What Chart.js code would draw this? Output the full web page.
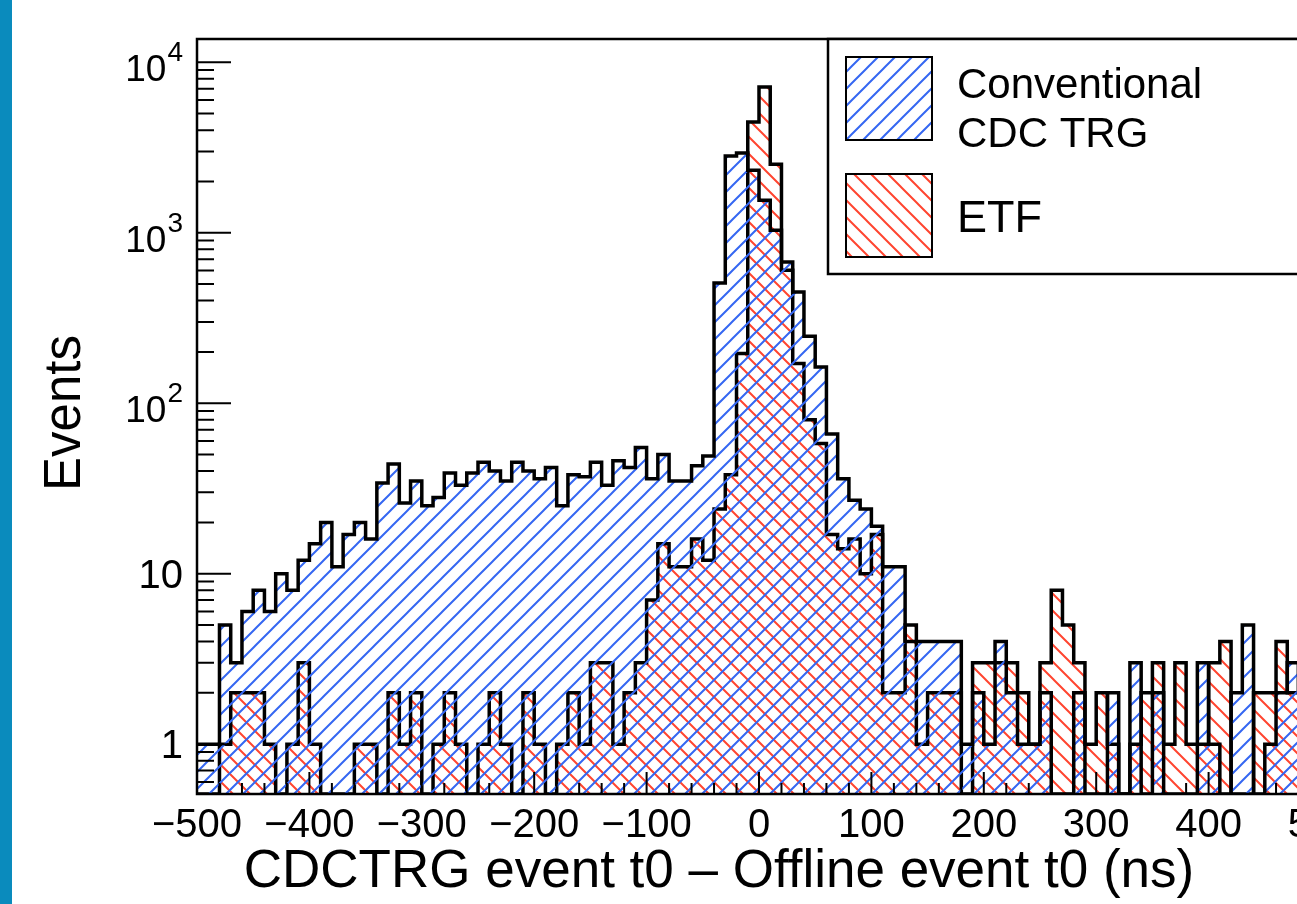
<!DOCTYPE html>
<html>
<head>
<meta charset="utf-8">
<script src="https://cdn.jsdelivr.net/npm/chart.js@4.4.0/dist/chart.umd.min.js"></script>
<style>
html, body { margin: 0; padding: 0; overflow: hidden; background: #fff; }
#wrap { position: relative; width: 1297px; height: 904px; overflow: hidden; }
#myChart { position: absolute; left: 0; top: 0; width: 1400px; height: 904px; }
#stripe { position: absolute; left: 0; top: 0; width: 12px; height: 904px; background: #0a8bbd; }
</style>
</head>
<body>
<div id="wrap">
  <canvas id="myChart" width="1400" height="904"></canvas>
  <div id="stripe"></div>
</div>
<script>
// binning of the histograms (ns)
const binLow = -500;
const binWidth = 10;

// entries per 10 ns bin
const conventional = [
  1, 1, 5, 3, 6, 8, 6, 10, 8, 12,
  15, 20, 11, 17, 20, 16, 34, 44, 26, 35,
  25, 28, 39, 33, 39, 45, 40, 35, 45, 40,
  36, 42, 25, 38, 37, 45, 33, 46, 42, 55,
  36, 50, 35, 35, 43, 49, 508, 2823, 2940, 2326,
  1552, 1035, 674, 450, 247, 163, 66, 36, 27, 24,
  19, 11, 11, 4, 4, 4, 4, 4, 1, 2,
  1, 4, 2, 1, 1, 2, 0, 0, 2, 0,
  0, 2, 0, 3, 0, 2, 0, 0, 0, 3,
  1, 0, 2, 5, 0, 1, 2, 3, 2, 3
];
const etf = [
  0, 0, 1, 2, 2, 2, 1, 0, 1, 3,
  1, 0, 0, 0, 1, 1, 0, 2, 1, 2,
  0, 1, 2, 1, 0, 1, 2, 1, 0, 2,
  1, 0, 1, 2, 1, 3, 3, 1, 2, 3,
  7, 15, 11, 11, 16, 12, 24, 38, 196, 4467,
  7164, 2522, 603, 171, 80, 58, 17, 14, 16, 10,
  17, 2, 2, 5, 1, 2, 2, 2, 0, 3,
  3, 3, 3, 2, 1, 3, 8, 5, 3, 1,
  2, 1, 0, 1, 2, 3, 1, 3, 1, 1,
  3, 4, 0, 0, 2, 2, 4, 2, 3, 2
];

const xTicks = [-500, -400, -300, -200, -100, 0, 100, 200, 300, 400, 500];
const yTicks = [1, 10, 100, 1000, 10000];
const yExp = ['', '', '2', '3', '4'];

const yMin = 0.51, yMax = 13700;
const FONT = '"Liberation Sans", Arial, Helvetica, sans-serif';
const blue = '#3567f2', red = '#ff4530';

const ctx = document.getElementById('myChart').getContext('2d');

function hatch(color, dir) {
  const s = 17;
  const c = document.createElement('canvas');
  c.width = s; c.height = s;
  const g = c.getContext('2d');
  g.strokeStyle = color;
  g.lineWidth = 2;
  g.beginPath();
  if (dir > 0) {
    g.moveTo(-2, s + 2); g.lineTo(s + 2, -2);
    g.moveTo(-2, 2); g.lineTo(2, -2);
    g.moveTo(s - 2, s + 2); g.lineTo(s + 2, s - 2);
  } else {
    g.moveTo(-2, -2); g.lineTo(s + 2, s + 2);
    g.moveTo(-2, s - 2); g.lineTo(2, s + 2);
    g.moveTo(s - 2, -2); g.lineTo(s + 2, 2);
  }
  g.stroke();
  return ctx.createPattern(c, 'repeat');
}
const blueHatch = hatch(blue, 1);
const redHatch = hatch(red, -1);

// points at the low edge of every bin, plus the closing edge
function steps(counts) {
  const pts = counts.map((v, i) => ({ x: binLow + i * binWidth, y: v > 0 ? v : yMin }));
  pts.push({ x: binLow + counts.length * binWidth, y: pts[pts.length - 1].y });
  return pts;
}

const rootAxes = {
  id: 'rootAxes',
  afterDatasetsDraw(chart) {
    const { ctx, chartArea: a, scales: { x, y } } = chart;
    ctx.save();
    ctx.strokeStyle = '#000';
    ctx.lineWidth = 2;
    ctx.beginPath();
    // x ticks, inward from the bottom
    for (let v = -500; v <= 500; v += 20) {
      const px = x.getPixelForValue(v);
      const len = v % 100 === 0 ? 22 : 11;
      ctx.moveTo(px, a.bottom); ctx.lineTo(px, a.bottom - len);
    }
    // y ticks, inward from the left
    for (let d = -1; d <= 4; d++) {
      for (let m = 1; m <= 9; m++) {
        const v = m * Math.pow(10, d);
        if (v < yMin || v > yMax) continue;
        const py = y.getPixelForValue(v);
        ctx.moveTo(a.left, py); ctx.lineTo(a.left + (m === 1 ? 34 : 17), py);
      }
    }
    ctx.stroke();

    // frame
    ctx.lineWidth = 2.5;
    ctx.strokeRect(a.left, a.top, a.right - a.left, a.bottom - a.top);

    // x tick labels
    ctx.fillStyle = '#000';
    ctx.textAlign = 'center';
    ctx.textBaseline = 'alphabetic';
    ctx.font = '40px ' + FONT;
    xTicks.forEach(v => {
      const lbl = v < 0 ? '\u2212' + Math.abs(v) : String(v);
      ctx.fillText(lbl, x.getPixelForValue(v), 837);
    });

    // y tick labels
    ctx.textAlign = 'right';
    yTicks.forEach((v, i) => {
      const py = y.getPixelForValue(v);
      if (!yExp[i]) {
        ctx.font = '40px ' + FONT;
        ctx.fillText(String(v), 183, py + 14);
      } else {
        ctx.font = '28px ' + FONT;
        ctx.fillText(yExp[i], 183, py - 1);
        const w = ctx.measureText(yExp[i]).width;
        ctx.font = '37px ' + FONT;
        ctx.fillText('10', 183 - w - 1, py + 19);
      }
    });

    // axis titles
    ctx.textAlign = 'center';
    ctx.font = '53px ' + FONT;
    ctx.fillText('CDCTRG event t0 \u2013 Offline event t0 (ns)', 719, 887);
    ctx.save();
    ctx.translate(80, 413);
    ctx.rotate(-Math.PI / 2);
    ctx.font = '51px ' + FONT;
    ctx.fillText('Events', 0, 0);
    ctx.restore();

    // legend
    const lx = 828, ly = a.top, lw = a.right - 828, lh = 274 - a.top;
    ctx.fillStyle = '#fff';
    ctx.fillRect(lx, ly, lw, lh);
    ctx.lineWidth = 2.5;
    ctx.strokeRect(lx, ly, lw, lh);
    const sw = [
      { pat: chart.data.datasets[0].backgroundColor, y0: 57, lines: ['Conventional', 'CDC TRG'], size: 42, base: [98, 147] },
      { pat: chart.data.datasets[1].backgroundColor, y0: 174, lines: ['ETF'], size: 45, base: [232] }
    ];
    sw.forEach(s => {
      ctx.fillStyle = s.pat;
      ctx.fillRect(846, s.y0, 86, 83);
      ctx.lineWidth = 2;
      ctx.strokeRect(846, s.y0, 86, 83);
      ctx.fillStyle = '#000';
      ctx.textAlign = 'left';
      ctx.font = s.size + 'px ' + FONT;
      s.lines.forEach((t, k) => ctx.fillText(t, 957, s.base[k]));
    });
    ctx.restore();
  }
};

new Chart(ctx, {
  type: 'line',
  data: {
    datasets: [
      {
        label: 'Conventional CDC TRG',
        data: steps(conventional),
        stepped: true,
        fill: 'start',
        backgroundColor: blueHatch,
        borderColor: '#000',
        borderWidth: 3.5,
        pointRadius: 0,
        tension: 0
      },
      {
        label: 'ETF',
        data: steps(etf),
        stepped: true,
        fill: 'start',
        backgroundColor: redHatch,
        borderColor: '#000',
        borderWidth: 3.5,
        pointRadius: 0,
        tension: 0
      }
    ]
  },
  options: {
    responsive: false,
    animation: false,
    layout: { padding: { left: 197, right: 79, top: 39, bottom: 110 } },
    scales: {
      x: { type: 'linear', min: -500, max: 500, display: false },
      y: { type: 'logarithmic', min: yMin, max: yMax, display: false }
    },
    plugins: {
      legend: { display: false },
      tooltip: { enabled: false }
    }
  },
  plugins: [rootAxes]
});
</script>
</body>
</html>
